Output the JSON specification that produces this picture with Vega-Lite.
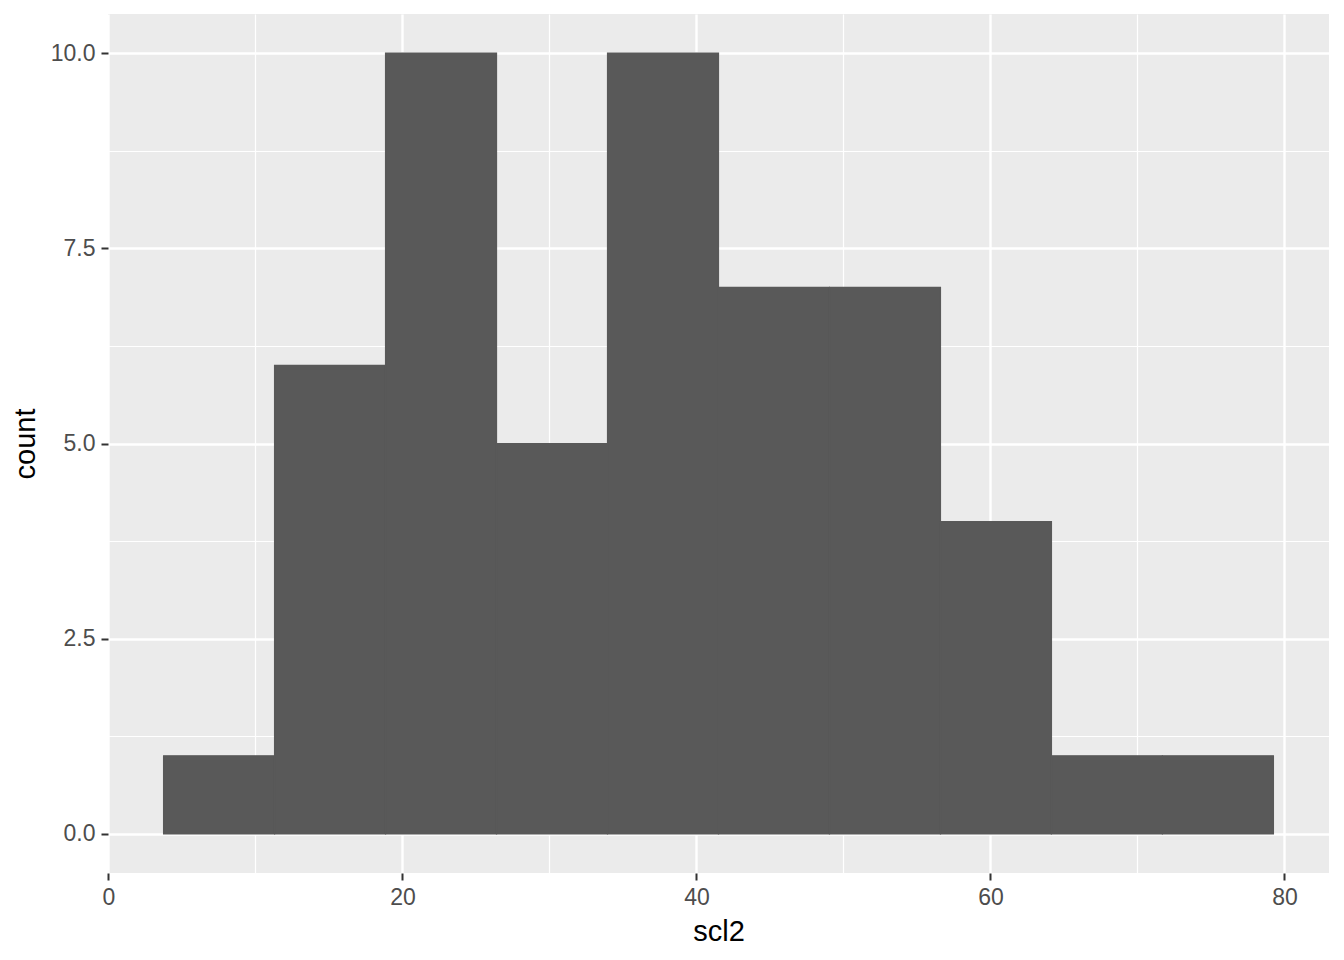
{
  "$schema": "https://vega.github.io/schema/vega-lite/v6.json",
  "autosize": "none",
  "width": 1221,
  "height": 859,
  "padding": {"left": 108, "top": 14, "right": 15, "bottom": 87},
  "background": "white",
  "config": {
    "view": {"fill": "#EBEBEB", "stroke": null},
    "font": "Liberation Sans"
  },
  "data": {
    "values": [
      {"bin_start": 3.75, "bin_end": 11.3, "count": 1},
      {"bin_start": 11.3, "bin_end": 18.85, "count": 6},
      {"bin_start": 18.85, "bin_end": 26.4, "count": 10},
      {"bin_start": 26.4, "bin_end": 33.95, "count": 5},
      {"bin_start": 33.95, "bin_end": 41.5, "count": 10},
      {"bin_start": 41.5, "bin_end": 49.05, "count": 7},
      {"bin_start": 49.05, "bin_end": 56.6, "count": 7},
      {"bin_start": 56.6, "bin_end": 64.15, "count": 4},
      {"bin_start": 64.15, "bin_end": 71.7, "count": 1},
      {"bin_start": 71.7, "bin_end": 79.25, "count": 1}
    ]
  },
  "mark": {"type": "bar", "color": "#595959", "stroke": "#595959", "strokeWidth": 1.2, "strokeOpacity": 1, "opacity": 1, "cornerRadius": 0},
  "encoding": {
    "x": {
      "field": "bin_start",
      "type": "quantitative",
      "title": "scl2",
      "scale": {"domain": [-0.03, 83.03], "nice": false, "zero": false},
      "axis": {
        "values": [0, 10, 20, 30, 40, 50, 60, 70, 80],
        "labelExpr": "datum.value % 20 === 0 ? datum.label : ''",
        "domain": false,
        "grid": true,
        "gridColor": "white",
        "gridWidth": {"condition": {"test": "datum.value % 20 === 0", "value": 2.4}, "value": 1.2},
        "tickColor": "#333333",
        "tickWidth": 2,
        "tickSize": 7,
        "tickOpacity": {"condition": {"test": "datum.value % 20 === 0", "value": 1}, "value": 0},
        "labelFont": "Liberation Sans",
        "labelFontSize": 23,
        "labelColor": "#4D4D4D",
        "labelPadding": 6,
        "labelFlush": false,
        "labelOverlap": false,
        "titleFont": "Liberation Sans",
        "titleFontSize": 29,
        "titleFontWeight": "normal",
        "titleColor": "black",
        "titlePadding": 8
      }
    },
    "x2": {"field": "bin_end"},
    "y": {
      "field": "count",
      "type": "quantitative",
      "title": "count",
      "scale": {"domain": [-0.5, 10.5], "nice": false, "zero": false},
      "axis": {
        "values": [0, 1.25, 2.5, 3.75, 5, 6.25, 7.5, 8.75, 10],
        "labelExpr": "datum.value % 2.5 === 0 ? format(datum.value, '.1f') : ''",
        "domain": false,
        "grid": true,
        "gridColor": "white",
        "gridWidth": {"condition": {"test": "datum.value % 2.5 === 0", "value": 2.4}, "value": 1.2},
        "tickColor": "#333333",
        "tickWidth": 2,
        "tickSize": 7,
        "tickOpacity": {"condition": {"test": "datum.value % 2.5 === 0", "value": 1}, "value": 0},
        "labelFont": "Liberation Sans",
        "labelFontSize": 23,
        "labelColor": "#4D4D4D",
        "labelPadding": 6,
        "labelFlush": false,
        "labelOverlap": false,
        "titleFont": "Liberation Sans",
        "titleFontSize": 29,
        "titleFontWeight": "normal",
        "titleColor": "black",
        "titlePadding": 10
      }
    },
    "y2": {"datum": 0}
  }
}
